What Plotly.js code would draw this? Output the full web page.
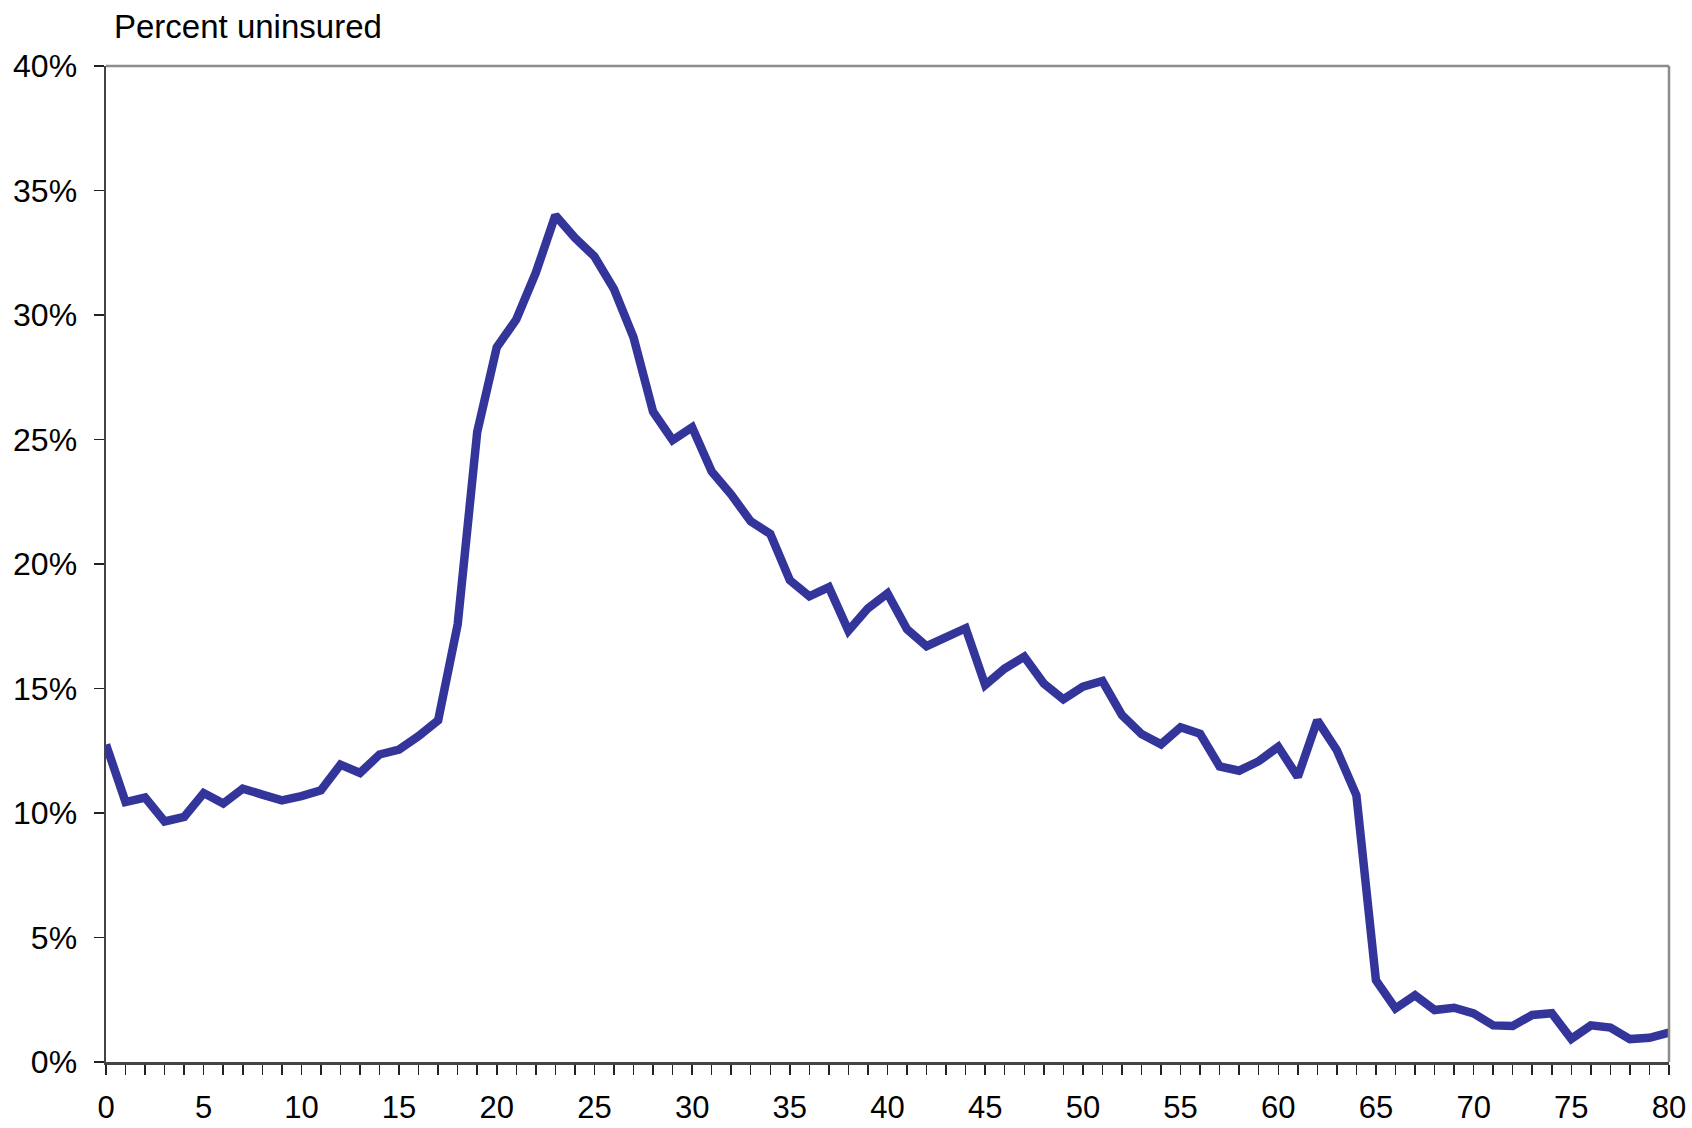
<!DOCTYPE html>
<html>
<head>
<meta charset="utf-8">
<script src="https://cdn.plot.ly/plotly-3.0.1.min.js"></script>
<style>
  html, body { margin: 0; padding: 0; background: #fff; }
  #myDiv { width: 1692px; height: 1128px; }
</style>
</head>
<body>
<div id="myDiv"></div>
<script>
// age in years
var ages = [];
for (var a = 0; a <= 80; a++) ages.push(a);

// percent uninsured by age
var uninsured = [
  12.75, 10.44, 10.62, 9.66, 9.84, 10.8, 10.38, 10.98, 10.74, 10.51,
  10.68, 10.91, 11.94, 11.61, 12.35, 12.55, 13.09, 13.72, 17.58, 25.3,
  28.7, 29.82, 31.7, 34.0, 33.1, 32.35, 31.04, 29.1, 26.12, 24.97,
  25.49, 23.72, 22.79, 21.71, 21.21, 19.35, 18.7, 19.07, 17.32, 18.22,
  18.82, 17.38, 16.7, 17.08, 17.42, 15.14, 15.8, 16.28, 15.2, 14.57,
  15.07, 15.3, 13.93, 13.17, 12.76, 13.44, 13.18, 11.87, 11.7, 12.08,
  12.66, 11.45, 13.72, 12.52, 10.71, 3.28, 2.15, 2.68, 2.09, 2.18,
  1.95, 1.47, 1.45, 1.89, 1.96, 0.93, 1.47, 1.38, 0.92, 0.97,
  1.18
];

var yTicks = [0, 5, 10, 15, 20, 25, 30, 35, 40];
var yTickText = ['0%', '5%', '10%', '15%', '20%', '25%', '30%', '35%', '40%'];

var trace1 = {
  x: ages,
  y: uninsured,
  mode: 'lines',
  type: 'scatter',
  line: { color: '#34359b', width: 8.5, shape: 'linear' },
  hoverinfo: 'x+y'
};

var fontFamily = 'Liberation Sans, Arial, sans-serif';

var layout = {
  width: 1692,
  height: 1128,
  margin: { l: 106, r: 23, t: 66, b: 66 },
  paper_bgcolor: '#fff',
  plot_bgcolor: '#fff',
  showlegend: false,
  xaxis: {
    range: [0, 80],
    tickmode: 'linear',
    tick0: 0,
    dtick: 5,
    ticks: 'outside',
    ticklen: 10,
    tickwidth: 1.5,
    tickcolor: '#222',
    minor: { dtick: 1, ticks: 'outside', ticklen: 10, tickwidth: 1.5, tickcolor: '#222' },
    ticklabelstandoff: 6,
    showgrid: false,
    zeroline: false,
    showline: true,
    linecolor: '#444',
    linewidth: 2.5,
    tickfont: { family: fontFamily, size: 31, color: '#000' }
  },
  yaxis: {
    range: [0, 40],
    tickvals: yTicks,
    ticktext: yTickText,
    ticks: 'outside',
    ticklen: 10,
    tickwidth: 1.5,
    tickcolor: '#222',
    ticklabelstandoff: 10,
    showgrid: false,
    zeroline: false,
    showline: true,
    linecolor: '#444',
    linewidth: 2.5,
    tickfont: { family: fontFamily, size: 32, color: '#000' }
  },
  shapes: [
    { type: 'line', xref: 'paper', yref: 'paper', x0: 0, x1: 1, y0: 1, y1: 1,
      line: { color: '#8c8c8c', width: 2.5 } },
    { type: 'line', xref: 'paper', yref: 'paper', x0: 1, x1: 1, y0: 0, y1: 1,
      line: { color: '#8c8c8c', width: 2.5 } }
  ],
  annotations: [
    {
      text: 'Percent uninsured',
      xref: 'paper', yref: 'paper',
      x: 0, y: 1,
      xanchor: 'left', yanchor: 'middle',
      xshift: 6, yshift: 40,
      showarrow: false,
      font: { family: fontFamily, size: 33, color: '#000' }
    }
  ]
};

Plotly.newPlot('myDiv', [trace1], layout, { displayModeBar: false, staticPlot: true });
</script>
</body>
</html>
